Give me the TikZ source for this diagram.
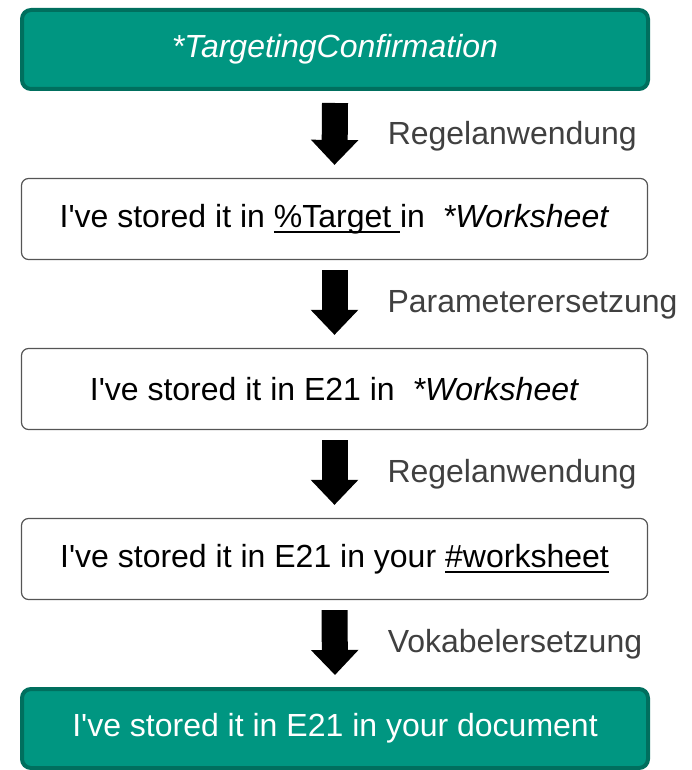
\documentclass[tikz,border=0pt]{standalone}
\usepackage{fontspec}
\setmainfont{Liberation Sans}
\usetikzlibrary{arrows.meta}
\definecolor{tealfill}{HTML}{009681}
\definecolor{tealedge}{HTML}{006F5E}
\definecolor{labelgray}{HTML}{404040}
\definecolor{boxedge}{HTML}{555555}
\newcommand{\ulpart}[1]{\setbox0\hbox{#1}\rlap{\rule[-6pt]{\wd0}{2pt}}\box0}
\newcommand{\ive}{I\textquotesingle ve}

\begin{document}
\begin{tikzpicture}[x=1pt,y=-1pt,
    every node/.style={font=\fontsize{32}{38}\selectfont},
    tealbox/.style={draw=tealedge, line width=4pt, fill=tealfill, rounded corners=9pt,
      minimum width=626pt, minimum height=79pt, text=white},
    whitebox/.style={draw=boxedge, line width=1.2pt, rounded corners=7pt,
      minimum width=626pt, minimum height=81pt},
    stepdown/.style={line width=26pt, -{Triangle[width=46pt,length=25pt]}},
    steplabel/.style={anchor=west, inner sep=0pt, outer sep=0pt, text=labelgray,
      xshift=53pt, yshift=-2pt}]
  \useasboundingbox (0,0) rectangle (692,770);
  % the five sentences
  \node [tealbox] (conf) at (335,49.5) {\itshape *TargetingConfirmation};
  \node [whitebox] (target) at (334.5,219) {\ive{} stored it in \ulpart{\%Target\ }in\ \ \textit{*Worksheet}};
  \node [whitebox] (cell) at (334.5,389) {\ive{} stored it in E21 in\ \ \textit{*Worksheet}};
  \node [whitebox] (vocab) at (334.5,559) {\ive{} stored it in E21 in your \ulpart{\#worksheet}};
  \node [tealbox] (doc) at (335,728.5) {\ive{} stored it in E21 in your document};
  % the steps between them
  \draw [stepdown] ([yshift=-12pt]conf.south) -- node [steplabel] {Regelanwendung} ([yshift=13pt]target.north);
  \draw [stepdown] ([yshift=-10pt]target.south) -- node [steplabel] {Parameterersetzung} ([yshift=13pt]cell.north);
  \draw [stepdown] ([yshift=-10pt]cell.south) -- node [steplabel] {Regelanwendung} ([yshift=13pt]vocab.north);
  \draw [stepdown] ([yshift=-10pt]vocab.south) -- node [steplabel] {Vokabelersetzung} ([yshift=12pt]doc.north);
\end{tikzpicture}
\end{document}
